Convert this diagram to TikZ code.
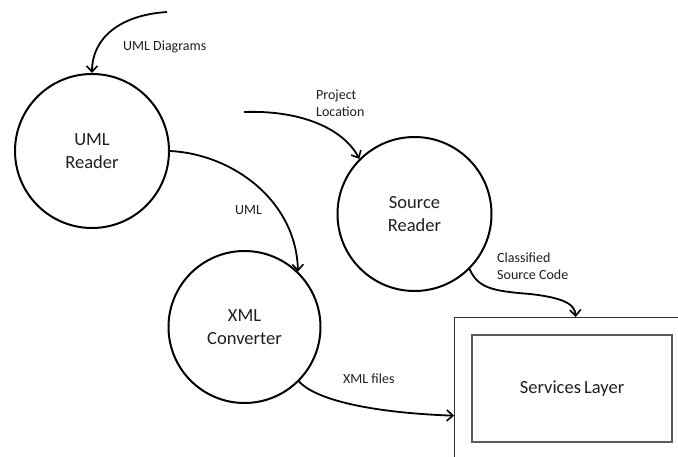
\documentclass[tikz,border=0pt]{standalone}
\usepackage{fontspec}
\setmainfont{Carlito}
\usetikzlibrary{arrows.meta}
\definecolor{ink}{HTML}{1E1E28}
\definecolor{boxline}{HTML}{303030}
\definecolor{innerline}{HTML}{5A5A5A}
\tikzset{
  proc/.style={circle, draw=black, line width=2pt, minimum size=154pt,
    inner sep=0pt, align=center, text=ink,
    font=\fontsize{18.5}{22.7}\selectfont},
  flow/.style={black, line width=1.8pt,
    -{Straight Barb[length=6pt,width=11pt,line width=1.6pt]}},
  lbl/.style={anchor=west, inner sep=0pt, align=left, text=ink,
    font=\fontsize{14}{17}\selectfont},
  layerbox/.style={draw=boxline, line width=1.4pt, inner sep=0pt,
    anchor=north west, minimum width=242pt, minimum height=196pt},
  innerbox/.style={draw=innerline, line width=1.6pt, inner sep=0pt,
    minimum width=200pt, minimum height=107pt, text=ink,
    font=\fontsize{18.5}{22.7}\selectfont}
}
\begin{document}
\begin{tikzpicture}[x=1pt, y=-1pt]
  \clip (0,0) rectangle (678,457);
  \fill[white] (0,0) rectangle (678,457);

  % processes
  \node[proc] (uml) at (92,151) {UML\\Reader};
  \node[proc] (src) at (414.5,214) {Source\\Reader};
  \node[proc, minimum size=152pt] (xml) at (244.5,327) {XML\\Converter};

  % services layer (outer frame runs past the page edge)
  \node[layerbox] (svc) at (454,317) {};
  \node[innerbox] (layer) at (572,388.5) {Services\,Layer};

  % free ends of the incoming flows
  \coordinate (umlsrc) at (167,12);
  \coordinate (projsrc) at (244,112);

  % flows
  \draw[flow] (umlsrc) .. controls (120,15) and (92,38) .. (uml.north);
  \draw[flow] (projsrc) .. controls (300,110) and (343,128) .. (src.135);
  \draw[flow] (uml.east) .. controls (232,154) and (296,200) .. (xml.46);
  \draw[flow] (src.315) .. controls (478,288) and (492,291) .. (530,294)
                       .. controls (566,298) and (575,305) .. (svc.north);
  \draw[flow] (xml.315) .. controls (318,402) and (380,413) .. (svc.west);

  % flow labels
  \node[lbl] (lumld) at (123,47) {UML Diagrams};
  \node[lbl] (lproj) at (316,103.5) {Project\\Location};
  \node[lbl] (luml) at (235,210) {UML};
  \node[lbl] (lcls) at (497,266.5) {Classified\\Source Code};
  \node[lbl] (lxmlf) at (343,379) {XML files};
\end{tikzpicture}
\end{document}
